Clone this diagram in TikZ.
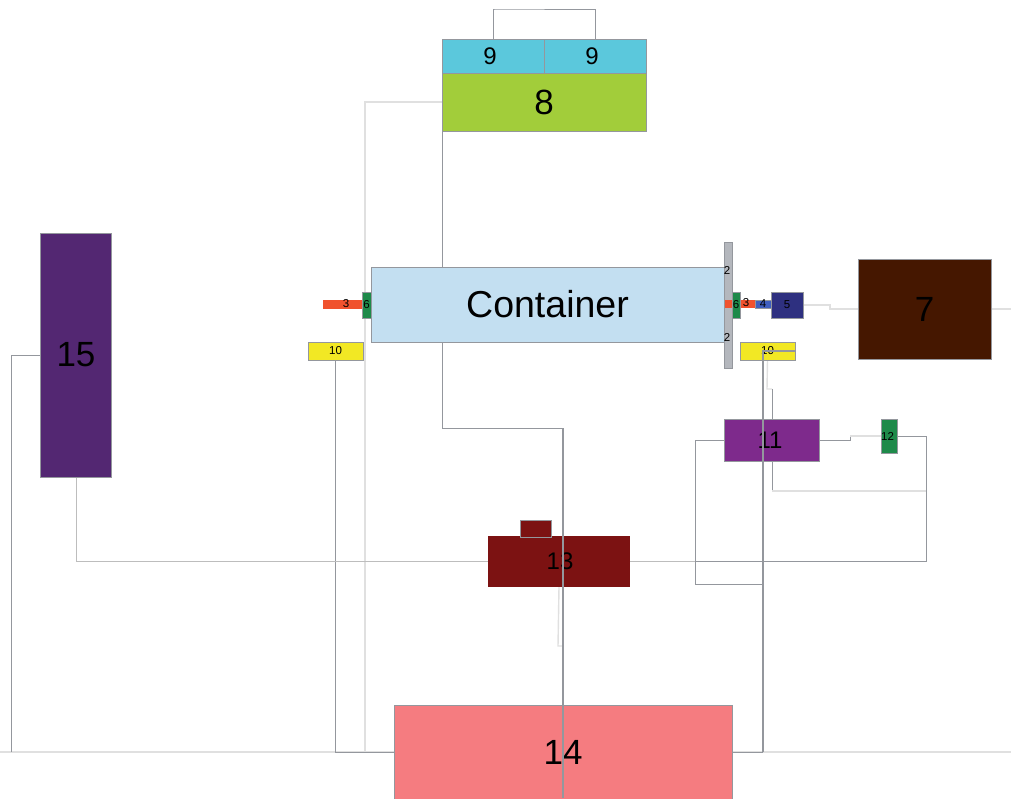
\documentclass[tikz,border=0pt]{standalone}
\usepackage{fontspec}
\setmainfont{Liberation Sans}
\usetikzlibrary{backgrounds}
\definecolor{wiredark}{HTML}{94979D}
\definecolor{wiremid}{HTML}{BDBDBD}
\definecolor{wirelight}{HTML}{E0E0E0}
\definecolor{cyanbox}{HTML}{5BC8DC}
\definecolor{limebox}{HTML}{A2CD3A}
\definecolor{tankblue}{HTML}{C3DFF1}
\definecolor{platebox}{HTML}{B4B7BD}
\definecolor{greenbox}{HTML}{1E8A4A}
\definecolor{redbox}{HTML}{F0522E}
\definecolor{bluebox}{HTML}{3F5FBF}
\definecolor{navybox}{HTML}{2E3080}
\definecolor{brownbox}{HTML}{451700}
\definecolor{yellowbox}{HTML}{F2E824}
\definecolor{purplebox}{HTML}{7E2A8C}
\definecolor{maroonbox}{HTML}{7C1212}
\definecolor{pinkbox}{HTML}{F57C80}
\definecolor{violetbox}{HTML}{532772}
\tikzset{
  part/.style={rectangle, draw=wiredark, line width=0.9pt, inner sep=0pt, outer sep=0pt},
  big/.style={part, font=\fontsize{35}{35}\selectfont},
  mid/.style={part, font=\fontsize{24}{24}\selectfont},
  tiny/.style={part, font=\fontsize{11.5}{12}\selectfont},
  tag/.style={inner sep=0pt, font=\fontsize{11.5}{12}\selectfont},
  wd/.style={draw=wiredark, line width=1pt},    % dark wire
  wo/.style={draw=wiredark, line width=1.25pt}, % dark wire over a part
  wm/.style={draw=wiremid, line width=1pt},     % middle wire
  wl/.style={draw=wirelight, line width=1.4pt}, % light wire
}

\begin{document}
\begin{tikzpicture}[x=1pt, y=-1pt]
  \useasboundingbox (0,0) rectangle (1011,798);
  % free ends
  \coordinate (edgeL) at (0,752);
  \coordinate (edgeR) at (1011,752);
  \coordinate (edgeT) at (1011,309);
  \coordinate (edgeB) at (563,798);
  \coordinate (bendA) at (563,428);
  \coordinate (bendB) at (763,584);
  % parts
  \node[big, fill=violetbox, minimum width=71, minimum height=244] (n15) at (76,355) {15};
  \node[mid, fill=cyanbox, minimum width=102, minimum height=34] (n9a) at (493,56) {\hspace*{-6pt}9};
  \node[mid, fill=cyanbox, minimum width=102, minimum height=34] (n9b) at (595,56) {\hspace*{-6pt}9};
  \node[big, fill=limebox, minimum width=204, minimum height=58] (n8) at (544,102) {8};
  \node[big, fill=tankblue, minimum width=353, minimum height=75, font=\fontsize{37.5}{37.5}\selectfont] (tank) at (547.5,304.5) {\raisebox{1.5pt}{Container}};
  \node[part, fill=platebox, minimum width=8, minimum height=126] (plate) at (728,305) {};
  \node[tag] (n2a) at (727,270) {2};
  \node[tag] (n2b) at (727,337) {2};
  \node[part, draw=none, fill=redbox, minimum width=30, minimum height=8] (n3r) at (740,304) {};
  \node[tiny, fill=bluebox, minimum width=16, minimum height=8] (n4) at (763,304) {4};
  \node[tiny, fill=greenbox, minimum width=8, minimum height=26] (n6r) at (736,305) {6};
  \node[tag] (n3rt) at (746,303) {3};
  \node[tiny, fill=navybox, minimum width=32, minimum height=26] (n5) at (787,305) {5};
  \node[big, fill=brownbox, minimum width=133, minimum height=100] (n7) at (924.5,309) {7};
  \node[part, draw=none, fill=redbox, minimum width=40, minimum height=9] (n3l) at (343,304.5) {};
  \node[tag] (n3lt) at (346,304) {3};
  \node[tiny, fill=greenbox, minimum width=9, minimum height=26] (n6l) at (366.5,305) {6};
  \node[tiny, fill=yellowbox, minimum width=55, minimum height=18] (n10l) at (335.5,351) {10};
  \node[tiny, fill=yellowbox, minimum width=55, minimum height=18] (n10r) at (767.5,351) {10};
  \node[mid, fill=purplebox, minimum width=95, minimum height=42] (n11) at (771.5,440) {\hspace*{-3pt}11};
  \node[tiny, fill=greenbox, minimum width=16, minimum height=34] (n12) at (889,436) {\hspace*{-3pt}12};
  \node[mid, draw=none, fill=maroonbox, minimum width=142, minimum height=51] (n13) at (559,561.5) {\hspace*{2pt}13};
  \node[part, fill=maroonbox, minimum width=31, minimum height=17] (n13s) at (535.5,528.5) {};
  \node[big, fill=pinkbox, minimum width=338, minimum height=94] (n14) at (563,752) {14};
  % wires behind the parts
  \begin{scope}[on background layer]
    \draw[wd] (n9a.north) |- (495,9) -| (n9b.north);
    \draw[wl] (n8.west) -| (365,752) -- (n14.west);
    \draw[wl] (n14.west) -- (edgeL);
    \draw[wl] (n14.east) -- (edgeR);
    \draw[wd] (n9a.west) -- (442,428) -- (bendA);
    \draw[wd] (n10l.south) |- (n14.west);
    \draw[wd] (n15.west) -- (11,355) -- (11,752);
    \draw[wm] (n15.south) |- (n13.west);
    \draw[wm] (n13.east) -- (695,561.5);
    \draw[wd] (695,561.5) -| (926,436) -- (n12.east);
    \draw[wl] (n5.east) -- (830,305) -- (830,309) -- (n7.west);
    \draw[wl] (n7.east) -- (edgeT);
    \draw[wd] (n11.east) -- (850,440) -- (850,436);
    \draw[wl] (850,436) -- (n12.west);
    \draw[wl] (n10r.south) -- (767,389) -- (772,389);
    \draw[wd] (772,389) -- (772,491);
    \draw[wl] (772,491) -- (926,491);
    \draw[wl] (n13.south) -- (558,646) -- (563,646);
    \draw[wd] (n11.west) -| (695,584) -- (bendB);
    \draw[wd] (763,752) -- (n14.east);
  \end{scope}
  % wires over the parts
  \draw[wo] (bendA) -- (edgeB);
  \draw[wo] (n10r.east) -- (763,351) -- (763,752);
\end{tikzpicture}
\end{document}
